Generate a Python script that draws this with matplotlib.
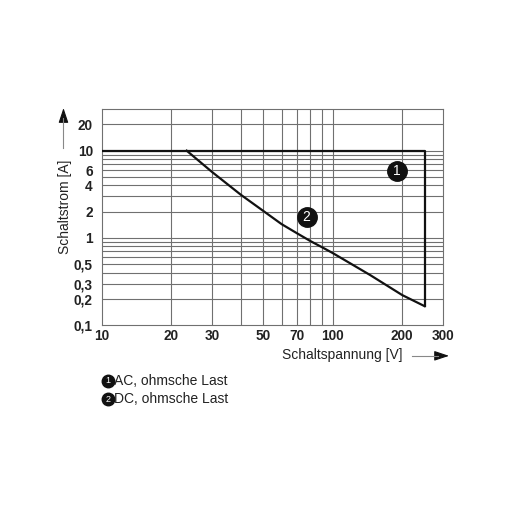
import matplotlib.pyplot as plt

plt.rcParams['font.family'] = ['Liberation Sans', 'DejaVu Sans']

# curve 1: AC, ohmic load
ac_volt = [10, 250, 250]
ac_amp = [10, 10, 0.165]

# curve 2: DC, ohmic load
dc_volt = [23.3, 30, 40, 50, 60, 70, 80, 90, 100, 145, 200, 250]
dc_amp = [10, 5.7, 3.12, 2.04, 1.44, 1.13, 0.92, 0.78, 0.67, 0.376, 0.221, 0.165]

x_ticks = [10, 20, 30, 50, 70, 100, 200, 300]
x_labels = ["10", "20", "30", "50", "70", "100", "200", "300"]
y_ticks = [0.1, 0.2, 0.3, 0.5, 1, 2, 4, 6, 10, 20]
y_labels = ["0,1", "0,2", "0,3", "0,5", "1", "2", "4", "6", "10", "20"]

x_grid = [20, 30, 40, 50, 60, 70, 80, 90, 100, 200]
y_grid = [0.2, 0.3, 0.4, 0.5, 0.6, 0.7, 0.8, 0.9, 1, 2, 3, 4, 5, 6, 7, 8, 9, 10, 20]

# circled curve numbers (position in data units)
marks = ["1", "2"]
mark_x = [189, 77]
mark_y = [5.8, 1.74]
legend_texts = ["AC, ohmsche Last", "DC, ohmsche Last"]

fig = plt.figure(figsize=(5.12, 5.12), dpi=100)
ax = fig.add_axes([0.199, 0.365, 0.666, 0.422])
ax.set_xscale('log')
ax.set_yscale('log')
ax.set_xlim(10, 300)
ax.set_ylim(0.1, 30)

for v in x_grid:
    ax.axvline(v, color='#707070', lw=0.8, zorder=1)
for v in y_grid:
    ax.axhline(v, color='#707070', lw=0.8, zorder=1)

ax.plot(ac_volt, ac_amp, color='#111111', lw=1.6, zorder=3)
ax.plot(dc_volt, dc_amp, color='#111111', lw=1.6, zorder=3)

for m, mx, my in zip(marks, mark_x, mark_y):
    ax.plot(mx, my, 'o', ms=14, color='#111111', zorder=4)
    ax.text(mx, my, m, color='white', ha='center', va='center', fontsize=10, zorder=5)

ax.set_xticks(x_ticks)
ax.set_xticklabels(x_labels, fontweight='bold', fontsize=9.8)
ax.set_yticks(y_ticks)
ax.set_yticklabels(y_labels, fontweight='bold', fontsize=9.8)
ax.minorticks_off()
ax.tick_params(length=0, colors='#222222')
ax.tick_params(axis='x', pad=3)
ax.tick_params(axis='y', pad=6.5)
for s in ax.spines.values():
    s.set_color('#707070')
    s.set_linewidth(0.8)

# axis titles with arrows
fig.text(0.668, 0.307, "Schaltspannung [V]", ha='center', va='center', fontsize=10, color='#222222')
fig.add_artist(plt.Line2D([0.805, 0.855], [0.305, 0.305], color='#888888', lw=0.8))
ax.annotate("", xy=(0.877, 0.305), xytext=(0.851, 0.305), xycoords='figure fraction',
            arrowprops=dict(arrowstyle='-|>,head_length=0.9,head_width=0.3', color='#111111',
                            lw=0.8, mutation_scale=10, shrinkA=0, shrinkB=0))

fig.text(0.127, 0.596, "Schaltstrom [A]", ha='center', va='center', rotation=90, fontsize=10, color='#222222')
fig.add_artist(plt.Line2D([0.124, 0.124], [0.711, 0.77], color='#888888', lw=0.8))
ax.annotate("", xy=(0.124, 0.789), xytext=(0.124, 0.763), xycoords='figure fraction',
            arrowprops=dict(arrowstyle='-|>,head_length=0.9,head_width=0.3', color='#111111',
                            lw=0.8, mutation_scale=10, shrinkA=0, shrinkB=0))

# legend
for i, (m, t) in enumerate(zip(marks, legend_texts)):
    yy = 0.2564 - i * 0.0357
    fig.add_artist(plt.Line2D([0.2115], [yy], marker='o', ms=9, color='#111111'))
    fig.text(0.2115, yy, m, color='white', ha='center', va='center', fontsize=6.5)
    fig.text(0.2235, yy, t, ha='left', va='center', fontsize=10, color='#222222')

fig.savefig("out.png", dpi=100)
